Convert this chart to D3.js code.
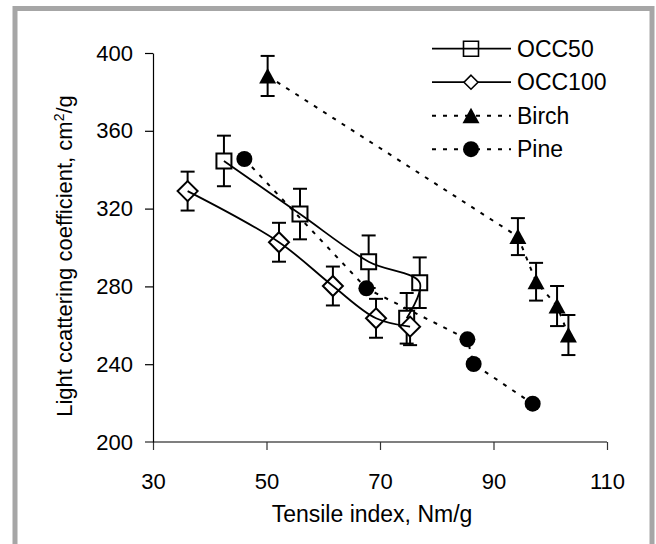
<!DOCTYPE html>
<html>
<head>
<meta charset="utf-8">
<script src="https://cdn.jsdelivr.net/npm/d3@7"></script>
<style>
  html, body { margin: 0; padding: 0; background: #fff; }
  svg { display: block; font-family: "Liberation Sans", Arial, sans-serif; }
</style>
</head>
<body>
<div id="chart"></div>
<script>
// Data
const occ50X   = [42.5, 55.9, 68.0, 77.0, 74.7];
const occ50Y   = [344.5, 317.2, 292.7, 281.9, 263.6];
const occ50Err = [13, 13, 13.5, 13, 13];

const occ100X   = [36.1, 52.2, 61.7, 69.3, 75.3];
const occ100Y   = [329.0, 302.7, 280.2, 263.6, 259.3];
const occ100Err = [10, 10, 10, 10, 9.5];

const birchX   = [50.2, 94.3, 97.5, 101.2, 103.2];
const birchY   = [388.2, 305.6, 282.4, 269.9, 255.0];
const birchErr = [10.3, 9.5, 9.7, 10.3, 10.3];

const pineX = [46.1, 67.6, 85.4, 86.5, 96.9];
const pineY = [345.5, 279.0, 252.8, 240.1, 219.7];

const xTicks = [30, 50, 70, 90, 110];
const yTicks = [200, 240, 280, 320, 360, 400];
const seriesNames = ['OCC50', 'OCC100', 'Birch', 'Pine'];

const width = 656, height = 544;

const svg = d3.select('#chart')
  .append('svg')
    .attr('width', width)
    .attr('height', height);

// grey frame around the picture
svg.append('rect')
  .attr('x', 15).attr('y', 8.5)
  .attr('width', 637).attr('height', 560)
  .attr('fill', '#fff')
  .attr('stroke', '#a6a6a6')
  .attr('stroke-width', 5);

const x = d3.scaleLinear().domain([30, 110]).range([153, 607]);
const y = d3.scaleLinear().domain([200, 400]).range([442, 53]);

// Axes
const xAxis = svg.append('g')
  .attr('transform', `translate(0,${y(200)})`)
  .call(d3.axisBottom(x).tickValues(xTicks).tickSize(8).tickSizeOuter(0).tickPadding(30));
xAxis.select('.domain').attr('stroke', '#555').attr('stroke-width', 1.5)
  .attr('d', `M${x(30) - 8},0H${x(110)}`);
xAxis.selectAll('.tick line').attr('stroke', '#333').attr('stroke-width', 1.2);
xAxis.selectAll('text').attr('font-size', 22).attr('fill', '#000')
  .attr('dy', '0.71em').attr('y', 31);

const yAxis = svg.append('g')
  .attr('transform', `translate(${x(30)},0)`)
  .call(d3.axisLeft(y).tickValues(yTicks.filter(v => v > 200)).tickSize(8).tickSizeOuter(0).tickPadding(12));
yAxis.select('.domain').attr('stroke', '#000').attr('stroke-width', 1.2);
yAxis.selectAll('.tick line').attr('stroke', '#000').attr('stroke-width', 1.2);
yAxis.selectAll('text').attr('font-size', 22).attr('fill', '#000');
// 200 label sits on the x axis line
yAxis.append('text')
  .attr('x', -20).attr('y', y(200)).attr('dy', '0.35em')
  .attr('text-anchor', 'end').attr('font-size', 22).attr('fill', '#000')
  .text('200');

// Axis titles
svg.append('text')
  .attr('x', 372).attr('y', 521.5)
  .attr('text-anchor', 'middle')
  .attr('font-size', 23)
  .text('Tensile index, Nm/g');

const yTitle = svg.append('text')
  .attr('transform', 'translate(72,256) rotate(-90)')
  .attr('text-anchor', 'middle')
  .attr('font-size', 22);
yTitle.append('tspan').text('Light ccattering coefficient, cm');
yTitle.append('tspan').attr('font-size', 14).attr('dy', -8).text('2');
yTitle.append('tspan').attr('dy', 8).text('/g');

// Marker shapes
const symbols = {
  square:   'M-7.5,-7.5H7.5V7.5H-7.5Z',
  diamond:  'M0,-10L10,0L0,10L-10,0Z',
  triangle: 'M0,-8L8.5,7.5H-8.5Z',
  circle:   d3.symbol(d3.symbolCircle, Math.PI * 64)()
};

const series = [
  { name: seriesNames[0], xs: occ50X,  ys: occ50Y,  err: occ50Err,  shape: 'square',   filled: false, dash: null,  smooth: true },
  { name: seriesNames[1], xs: occ100X, ys: occ100Y, err: occ100Err, shape: 'diamond',  filled: false, dash: null,  smooth: true },
  { name: seriesNames[2], xs: birchX,  ys: birchY,  err: birchErr,  shape: 'triangle', filled: true,  dash: '4,7', smooth: false },
  { name: seriesNames[3], xs: pineX,   ys: pineY,   err: null,      shape: 'circle',   filled: true,  dash: '4,7', smooth: false }
];

const plot = svg.append('g');

// Error bars first
series.filter(s => s.err).forEach(s => {
  const g = plot.append('g').attr('stroke', '#000').attr('stroke-width', 2);
  s.xs.forEach((xv, i) => {
    const cx = x(xv), top = y(s.ys[i] + s.err[i]), bot = y(s.ys[i] - s.err[i]);
    g.append('line').attr('x1', cx).attr('x2', cx).attr('y1', top).attr('y2', bot);
    g.append('line').attr('x1', cx - 7).attr('x2', cx + 7).attr('y1', top).attr('y2', top);
    g.append('line').attr('x1', cx - 7).attr('x2', cx + 7).attr('y1', bot).attr('y2', bot);
  });
});

// Markers
series.forEach(s => {
  plot.append('g')
    .selectAll('path')
    .data(s.xs.map((xv, i) => [xv, s.ys[i]]))
    .join('path')
      .attr('d', symbols[s.shape])
      .attr('transform', d => `translate(${x(d[0])},${y(d[1])})`)
      .attr('fill', s.filled ? '#000' : '#fff')
      .attr('stroke', '#000')
      .attr('stroke-width', s.filled ? 0 : 2);
});

// Connecting lines on top
series.forEach(s => {
  const line = d3.line()
    .x(d => x(d[0]))
    .y(d => y(d[1]))
    .curve(s.smooth ? d3.curveCatmullRom.alpha(0.5) : d3.curveLinear);
  plot.append('path')
    .datum(s.xs.map((xv, i) => [xv, s.ys[i]]))
    .attr('d', line)
    .attr('fill', 'none')
    .attr('stroke', '#000')
    .attr('stroke-width', s.smooth ? 1.8 : 2)
    .attr('stroke-dasharray', s.dash);
});

// Legend
const legend = svg.append('g');
series.forEach((s, i) => {
  const ly = 48.7 + i * 33.5;
  const row = legend.append('g').attr('transform', `translate(0,${ly})`);
  row.append('line')
    .attr('x1', 432).attr('x2', 511)
    .attr('stroke', '#000').attr('stroke-width', s.smooth ? 1.8 : 2)
    .attr('stroke-dasharray', s.dash);
  row.append('path')
    .attr('d', s.shape === 'diamond' ? 'M0,-7L7,0L0,7L-7,0Z' : symbols[s.shape])
    .attr('transform', 'translate(471,0)')
    .attr('fill', s.filled ? '#000' : (s.shape === 'square' ? 'none' : '#fff'))
    .attr('stroke', '#000')
    .attr('stroke-width', s.filled ? 0 : 1.6);
  row.append('text')
    .attr('x', 517).attr('dy', '0.36em')
    .attr('font-size', 23)
    .text(s.name);
});
</script>
</body>
</html>
